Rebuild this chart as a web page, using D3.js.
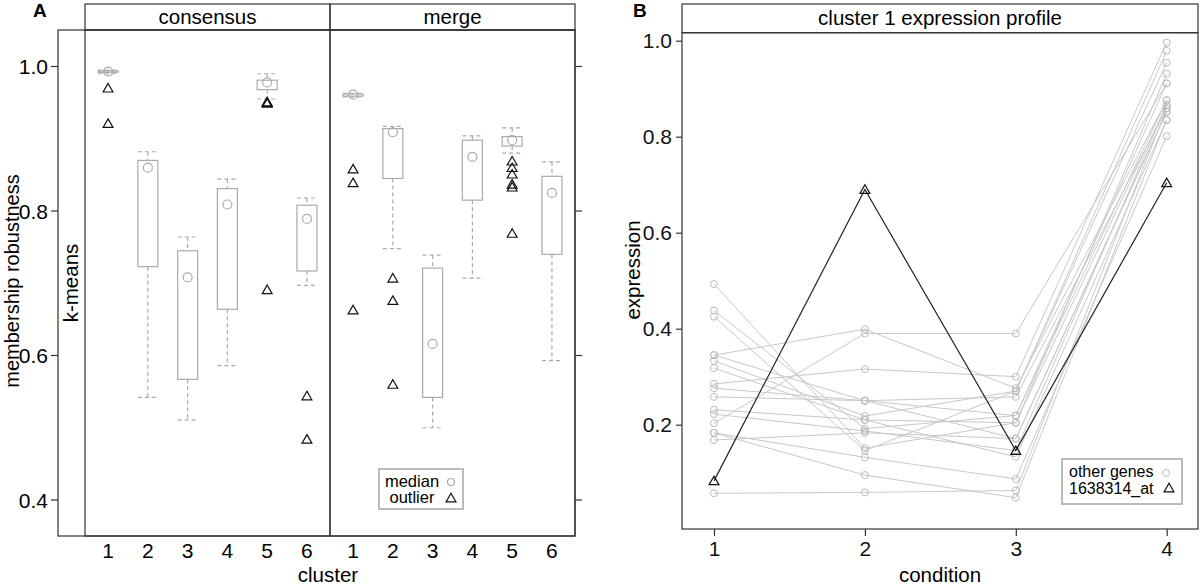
<!DOCTYPE html>
<html>
<head>
  <style>
    body { margin: 0; background: #fff; }
    svg { font-family: "Liberation Sans", Arial, sans-serif; }
    .frame { fill: none; stroke: #333; stroke-width: 1.2px; }
    .box { fill: #fff; stroke: #aaa; stroke-width: 1.2px; }
    .whisker { stroke: #aaa; stroke-width: 1.2px; stroke-dasharray: 4, 3; }
    .median { fill: none; stroke: #aaa; stroke-width: 1.2px; }
    .outlier { fill: none; stroke: #111; stroke-width: 1.2px; }
    .gene { fill: none; stroke: #c8c8c8; stroke-width: 1px; }
    .genept { fill: none; stroke: #bbb; stroke-width: 1px; }
    .probe { fill: none; stroke: #222; stroke-width: 1.2px; }
  </style>
</head>
<body>
  <script src="https://d3js.org/d3.v7.min.js"></script>
  <script>
    // ---- panel A data (membership robustness boxplots)
    var clusters = [1, 2, 3, 4, 5, 6];
    var methods = ["consensus", "merge"];
    var yTicksA = [0.4, 0.6, 0.8, 1.0];

    var consLow  = [0.990, 0.542, 0.511, 0.586, 0.955, 0.697];
    var consQ1   = [0.992, 0.723, 0.567, 0.664, 0.968, 0.717];
    var consMed  = [0.993, 0.860, 0.708, 0.809, 0.978, 0.789];
    var consQ3   = [0.994, 0.870, 0.745, 0.831, 0.981, 0.808];
    var consHigh = [0.995, 0.882, 0.764, 0.844, 0.990, 0.818];
    var consOut  = [[0.970, 0.921], [], [], [], [0.951, 0.950, 0.949, 0.691], [0.544, 0.484]];

    var mergeLow  = [0.958, 0.748, 0.500, 0.707, 0.880, 0.593];
    var mergeQ1   = [0.959, 0.845, 0.542, 0.815, 0.890, 0.740];
    var mergeMed  = [0.961, 0.909, 0.616, 0.875, 0.898, 0.825];
    var mergeQ3   = [0.962, 0.914, 0.721, 0.898, 0.903, 0.848];
    var mergeHigh = [0.963, 0.917, 0.739, 0.904, 0.915, 0.868];
    var mergeOut  = [[0.858, 0.839, 0.663], [0.707, 0.676, 0.560], [], [], [0.869, 0.860, 0.851, 0.837, 0.833, 0.769], []];

    // ---- panel B data (cluster 1 expression profile)
    var conditions = [1, 2, 3, 4];
    var yTicksB = [0.2, 0.4, 0.6, 0.8, 1.0];
    var probe = [0.083, 0.690, 0.146, 0.704];
    var otherGenes = [
      [0.493, 0.151, 0.204, 0.931],
      [0.438, 0.192, 0.219, 0.911],
      [0.425, 0.146, 0.270, 0.979],
      [0.345, 0.399, 0.276, 0.876],
      [0.345, 0.250, 0.171, 0.852],
      [0.333, 0.218, 0.270, 0.954],
      [0.318, 0.210, 0.204, 0.866],
      [0.285, 0.316, 0.300, 0.996],
      [0.203, 0.390, 0.390, 0.911],
      [0.276, 0.250, 0.258, 0.859],
      [0.258, 0.250, 0.219, 0.876],
      [0.231, 0.210, 0.133, 0.835],
      [0.222, 0.187, 0.146, 0.866],
      [0.183, 0.132, 0.087, 0.801],
      [0.168, 0.183, 0.171, 0.852],
      [0.057, 0.059, 0.063, 0.859],
      [0.183, 0.095, 0.048, 0.835]
    ];

    var width = 1200, height = 588;
    var tickFont = 21;

    var svg = d3.select("body").append("svg")
        .attr("width", width)
        .attr("height", height);

    var tri = d3.symbol().type(d3.symbolTriangle).size(42);

    // ================= panel A =================
    var yA = d3.scaleLinear().domain([0.4, 1.0]).range([500, 66.5]);
    var panels = [
      {name: "consensus", x0: 85, low: consLow, q1: consQ1, med: consMed, q3: consQ3, high: consHigh, out: consOut},
      {name: "merge", x0: 330, low: mergeLow, q1: mergeQ1, med: mergeMed, q3: mergeQ3, high: mergeHigh, out: mergeOut}
    ];
    var pw = 245, bw = 20;

    panels.forEach(function(p) {
      var x = d3.scalePoint().domain(clusters).range([p.x0, p.x0 + pw]).padding(0.58);
      var g = svg.append("g");

      clusters.forEach(function(c, i) {
        var cx = x(c);
        // whiskers
        g.append("line").attr("class", "whisker")
            .attr("x1", cx).attr("x2", cx).attr("y1", yA(p.high[i])).attr("y2", yA(p.q3[i]));
        g.append("line").attr("class", "whisker")
            .attr("x1", cx).attr("x2", cx).attr("y1", yA(p.q1[i])).attr("y2", yA(p.low[i]));
        g.append("line").attr("class", "whisker")
            .attr("x1", cx - bw / 2).attr("x2", cx + bw / 2).attr("y1", yA(p.high[i])).attr("y2", yA(p.high[i]));
        g.append("line").attr("class", "whisker")
            .attr("x1", cx - bw / 2).attr("x2", cx + bw / 2).attr("y1", yA(p.low[i])).attr("y2", yA(p.low[i]));
        // box
        g.append("rect").attr("class", "box")
            .attr("x", cx - bw / 2).attr("width", bw)
            .attr("y", yA(p.q3[i])).attr("height", Math.max(1, yA(p.q1[i]) - yA(p.q3[i])));
        g.append("circle").attr("class", "median")
            .attr("cx", cx).attr("cy", yA(p.med[i])).attr("r", 4.5);
        // outliers
        g.selectAll(null).data(p.out[i]).enter().append("path")
            .attr("class", "outlier")
            .attr("d", tri)
            .attr("transform", function(d) { return "translate(" + cx + "," + (yA(d) + 1) + ")"; });
        // x labels
        svg.append("text").attr("x", cx).attr("y", 558)
            .attr("text-anchor", "middle").attr("font-size", tickFont).text(c);
      });

      // strip
      svg.append("rect").attr("class", "frame").attr("x", p.x0).attr("y", 4).attr("width", pw).attr("height", 26);
      svg.append("text").attr("x", p.x0 + pw / 2).attr("y", 23.5)
          .attr("text-anchor", "middle").attr("font-size", 20.5).text(p.name);
      svg.append("rect").attr("class", "frame").attr("x", p.x0).attr("y", 30).attr("width", pw).attr("height", 506);
    });

    // outer frame with k-means strip
    svg.append("rect").attr("class", "frame").attr("x", 58).attr("y", 30).attr("width", 517).attr("height", 506);
    svg.append("text")
        .attr("transform", "translate(78,283) rotate(-90)")
        .attr("text-anchor", "middle").attr("font-size", 20.5).text("k-means");

    // y axes left and right
    var axA = svg.append("g");
    yTicksA.forEach(function(t) {
      axA.append("line").attr("stroke", "#333").attr("stroke-width", 1.2)
          .attr("x1", 51).attr("x2", 58).attr("y1", yA(t)).attr("y2", yA(t));
      axA.append("line").attr("stroke", "#333").attr("stroke-width", 1.2)
          .attr("x1", 575).attr("x2", 582).attr("y1", yA(t)).attr("y2", yA(t));
      axA.append("text").attr("x", 48).attr("y", yA(t) + 7.5)
          .attr("text-anchor", "end").attr("font-size", tickFont).text(d3.format(".1f")(t));
    });
    svg.append("text")
        .attr("transform", "translate(19,281) rotate(-90)")
        .attr("text-anchor", "middle").attr("font-size", 20).text("membership robustness");
    svg.append("text").attr("x", 328).attr("y", 582)
        .attr("text-anchor", "middle").attr("font-size", 20.5).text("cluster");
    svg.append("text").attr("x", 33).attr("y", 17)
        .attr("font-size", 19).attr("font-weight", "bold").text("A");

    // legend A
    var legA = svg.append("g");
    legA.append("rect").attr("x", 379).attr("y", 469).attr("width", 84).attr("height", 40)
        .attr("fill", "#fff").attr("stroke", "#bbb").attr("stroke-width", 2);
    legA.append("text").attr("x", 412).attr("y", 487).attr("text-anchor", "middle").attr("font-size", 16.5).text("median");
    legA.append("text").attr("x", 412).attr("y", 503).attr("text-anchor", "middle").attr("font-size", 16.5).text("outlier");
    legA.append("circle").attr("class", "median").attr("cx", 451).attr("cy", 482).attr("r", 3.5);
    legA.append("path").attr("class", "outlier").attr("d", tri).attr("transform", "translate(451,499)");

    // ================= panel B =================
    var xB = d3.scaleLinear().domain([1, 4]).range([714, 1166.7]);
    var yB = d3.scaleLinear().domain([0, 1]).range([520.7, 40.7]);

    var line = d3.line()
        .x(function(d, i) { return xB(conditions[i]); })
        .y(function(d) { return yB(d); });

    var gB = svg.append("g");
    gB.selectAll(".gene").data(otherGenes).enter().append("path")
        .attr("class", "gene").attr("d", line);
    otherGenes.forEach(function(gv) {
      gB.selectAll(null).data(gv).enter().append("circle")
          .attr("class", "genept")
          .attr("cx", function(d, i) { return xB(conditions[i]); })
          .attr("cy", function(d) { return yB(d); })
          .attr("r", 3.5);
    });
    gB.append("path").datum(probe).attr("class", "probe").attr("d", line);
    gB.selectAll(".probept").data(probe).enter().append("path")
        .attr("class", "outlier")
        .attr("d", tri)
        .attr("transform", function(d, i) { return "translate(" + xB(conditions[i]) + "," + (yB(d) + 1) + ")"; });

    // frame and strip
    svg.append("rect").attr("class", "frame").attr("x", 682).attr("y", 4).attr("width", 516).attr("height", 28.7);
    svg.append("rect").attr("class", "frame").attr("x", 682).attr("y", 32.7).attr("width", 516).attr("height", 496.3);
    svg.append("text").attr("x", 940).attr("y", 24.5)
        .attr("text-anchor", "middle").attr("font-size", 20.5).text("cluster 1 expression profile");

    var yAxisB = d3.axisLeft(yB).tickValues(yTicksB).tickSize(6).tickPadding(4).tickFormat(d3.format(".1f"));
    svg.append("g").attr("transform", "translate(682,0)").call(yAxisB)
        .call(function(g) { g.select(".domain").remove(); })
        .call(function(g) { g.selectAll("line").attr("stroke", "#333").attr("stroke-width", 1.2); })
        .call(function(g) { g.selectAll("text").attr("font-size", tickFont).attr("font-family", "Liberation Sans, Arial, sans-serif").attr("fill", "#111"); });

    var xAxisB = d3.axisBottom(xB).tickValues(conditions).tickSize(7).tickPadding(5).tickFormat(d3.format("d"));
    svg.append("g").attr("transform", "translate(0,529)").call(xAxisB)
        .call(function(g) { g.select(".domain").remove(); })
        .call(function(g) { g.selectAll("line").attr("stroke", "#333").attr("stroke-width", 1.2); })
        .call(function(g) { g.selectAll("text").attr("font-size", tickFont).attr("font-family", "Liberation Sans, Arial, sans-serif").attr("fill", "#111"); });

    svg.append("text")
        .attr("transform", "translate(640,270) rotate(-90)")
        .attr("text-anchor", "middle").attr("font-size", 20.5).text("expression");
    svg.append("text").attr("x", 940).attr("y", 582)
        .attr("text-anchor", "middle").attr("font-size", 20.5).text("condition");
    svg.append("text").attr("x", 633).attr("y", 17)
        .attr("font-size", 19).attr("font-weight", "bold").text("B");

    // legend B
    var legB = svg.append("g");
    legB.append("rect").attr("x", 1062).attr("y", 459).attr("width", 120).attr("height", 45)
        .attr("fill", "#fff").attr("stroke", "#bbb").attr("stroke-width", 2);
    legB.append("text").attr("x", 1069).attr("y", 477).attr("font-size", 16).text("other genes");
    legB.append("text").attr("x", 1069).attr("y", 494).attr("font-size", 16).text("1638314_at");
    legB.append("circle").attr("class", "genept").attr("cx", 1166).attr("cy", 473).attr("r", 3.5);
    legB.append("path").attr("class", "outlier").attr("d", tri).attr("transform", "translate(1169,489)");
  </script>
</body>
</html>
